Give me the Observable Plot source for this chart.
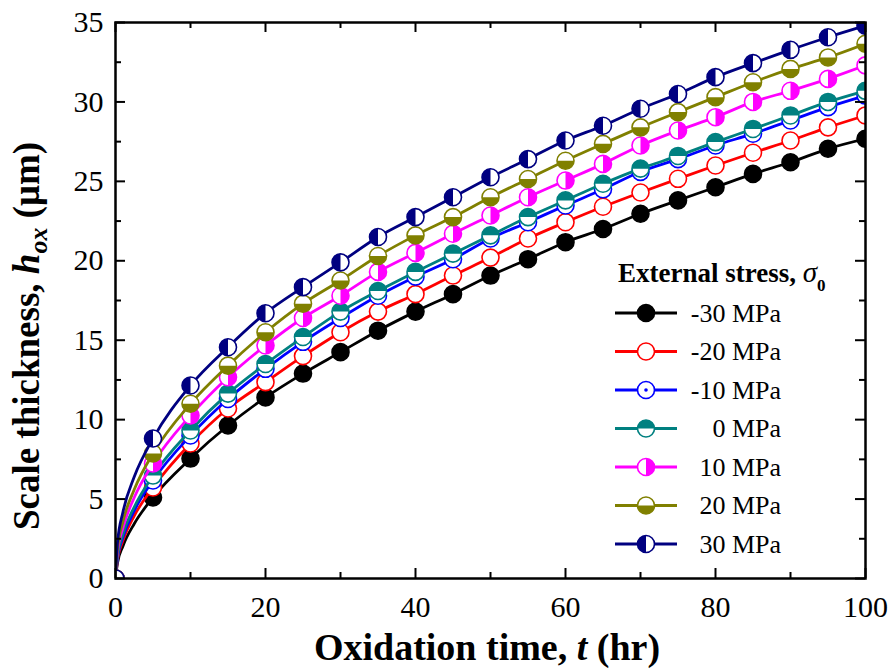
<!DOCTYPE html>
<html><head><meta charset="utf-8">
<script src="https://cdn.jsdelivr.net/npm/d3@7"></script>
<script src="https://cdn.jsdelivr.net/npm/@observablehq/plot@0.6"></script>
<style>
body{margin:0;background:#fff}
#chart{width:893px;height:671px}
svg, svg text{font-family:"Liberation Serif","Times New Roman",serif !important}
</style>
</head><body><div id="chart"></div>
<script>
// ---- data ----
const times = [0, 5, 10, 15, 20, 25, 30, 35, 40, 45, 50, 55, 60, 65, 70, 75, 80, 85, 90, 95, 100];
const earlyTimes = [0.25, 1, 2.5]; // extra line-only points near the origin
const stressLabels = ["-30 MPa", "-20 MPa", "-10 MPa", "0 MPa", "10 MPa", "20 MPa", "30 MPa"];
const colors = ["#000000", "#ff0000", "#0000ff", "#008080", "#ff00ff", "#808000", "#000080"];

const hM30 = [0, 5.1, 7.55, 9.63, 11.4, 12.9, 14.25, 15.6, 16.8, 17.9, 19.07, 20.1, 21.17, 22.0, 22.96, 23.8, 24.63, 25.47, 26.2, 27.05, 27.68];
const hM20 = [0, 5.73, 8.5, 10.7, 12.36, 14.0, 15.5, 16.8, 17.9, 19.07, 20.2, 21.4, 22.43, 23.4, 24.3, 25.16, 26.0, 26.8, 27.57, 28.4, 29.15];
const hM10 = [0, 6.17, 9.0, 11.3, 13.2, 14.9, 16.4, 17.8, 19.0, 20.1, 21.4, 22.43, 23.48, 24.5, 25.6, 26.4, 27.26, 28.0, 28.83, 29.67, 30.4];
const hP0  = [0, 6.48, 9.32, 11.64, 13.5, 15.2, 16.8, 18.1, 19.3, 20.45, 21.6, 22.75, 23.8, 24.85, 25.8, 26.6, 27.47, 28.3, 29.15, 30.0, 30.7];
const hP10 = [0, 7.24, 10.26, 12.67, 14.67, 16.4, 17.8, 19.3, 20.5, 21.7, 22.85, 24.0, 25.05, 26.1, 27.26, 28.2, 29.04, 30.0, 30.7, 31.45, 32.3];
const hP20 = [0, 7.87, 11.0, 13.4, 15.5, 17.3, 18.76, 20.3, 21.6, 22.75, 24.0, 25.15, 26.3, 27.36, 28.4, 29.36, 30.3, 31.24, 32.08, 32.8, 33.66];
const hP30 = [0, 8.81, 12.15, 14.56, 16.7, 18.34, 19.9, 21.5, 22.75, 24.0, 25.26, 26.4, 27.57, 28.5, 29.57, 30.5, 31.56, 32.44, 33.28, 34.07, 34.8];

const earlyM30 = [0.94, 2.05, 3.45];
const earlyM20 = [1.1, 2.4, 3.95];
const earlyM10 = [1.2, 2.6, 4.27];
const earlyP0  = [1.3, 2.8, 4.5];
const earlyP10 = [1.6, 3.2, 5.1];
const earlyP20 = [1.8, 3.6, 5.6];
const earlyP30 = [2.2, 4.2, 6.4];

const xMajor = [0, 20, 40, 60, 80, 100];
const xMinor = [10, 30, 50, 70, 90];
const yMajor = [0, 5, 10, 15, 20, 25, 30, 35];
const yMinor = [2.5, 7.5, 12.5, 17.5, 22.5, 27.5, 32.5];

// ---- build tables ----
const seriesVals = [hM30, hM20, hM10, hP0, hP10, hP20, hP30];
const seriesEarly = [earlyM30, earlyM20, earlyM10, earlyP0, earlyP10, earlyP20, earlyP30];
const markerRows = seriesVals.map((vals, k) => times.map((t, j) => ({t, h: vals[j], k})));
const lineRows = seriesVals.map((vals, k) => {
  const rows = times.map((t, j) => ({t, h: vals[j]}));
  earlyTimes.forEach((t, j) => rows.push({t, h: seriesEarly[k][j]}));
  return rows.sort((a, b) => a.t - b.t);
});

// half-disc symbols
const half = (a0) => ({draw(ctx, size) {
  const r = Math.sqrt(size / Math.PI);
  ctx.moveTo(r * Math.cos(a0), r * Math.sin(a0));
  ctx.arc(0, 0, r, a0, a0 + Math.PI);
  ctx.closePath();
}});
const halfSym = [null, null, null, half(Math.PI), half(-Math.PI / 2), half(0), half(Math.PI / 2)];

const W = 893, H = 671, ML = 115, MR = 28, MT = 22, MB = 93;
const PW = W - ML - MR, PH = H - MT - MB;
const R = 8.5;

const marks = [];
seriesVals.forEach((_, k) => {
  marks.push(Plot.line(lineRows[k], {x: "t", y: "h", stroke: colors[k], strokeWidth: 2.8, curve: "monotone-x", clip: true}));
  marks.push(Plot.dot(markerRows[k], {x: "t", y: "h", r: R, fill: k === 0 ? colors[k] : "white", stroke: colors[k], strokeWidth: 1.6, clip: true}));
  if (halfSym[k]) marks.push(Plot.dot(markerRows[k], {x: "t", y: "h", r: R, symbol: halfSym[k], fill: colors[k], clip: true}));
  if (k === 2) marks.push(Plot.dot(markerRows[k], {x: "t", y: "h", r: 1.8, fill: colors[k], clip: true}));
});

const chart = Plot.plot({
  width: W, height: H,
  marginLeft: ML, marginRight: MR, marginTop: MT, marginBottom: MB,
  style: {fontFamily: "'Liberation Serif', serif", background: "white", color: "black"},
  x: {domain: [0, 100]},
  y: {domain: [0, 35]},
  marks: [
    ...marks,
    Plot.tickX(xMajor, {x: d => d, insetTop: PH - 10, stroke: "black", strokeWidth: 2}),
    Plot.tickX(xMinor, {x: d => d, insetTop: PH - 6, stroke: "black", strokeWidth: 2}),
    Plot.tickX(xMajor, {x: d => d, insetBottom: PH - 10, stroke: "black", strokeWidth: 2}),
    Plot.tickX(xMinor, {x: d => d, insetBottom: PH - 6, stroke: "black", strokeWidth: 2}),
    Plot.tickY(yMajor, {y: d => d, insetRight: PW - 10, stroke: "black", strokeWidth: 2}),
    Plot.tickY(yMinor, {y: d => d, insetRight: PW - 6, stroke: "black", strokeWidth: 2}),
    Plot.tickY(yMajor, {y: d => d, insetLeft: PW - 10, stroke: "black", strokeWidth: 2}),
    Plot.tickY(yMinor, {y: d => d, insetLeft: PW - 6, stroke: "black", strokeWidth: 2}),
    Plot.frame({stroke: "black", strokeWidth: 2.5}),
    Plot.axisX(xMajor, {tickSize: 0, tickPadding: 17, fontSize: 30, label: null}),
    Plot.axisY(yMajor, {tickSize: 0, tickPadding: 12, fontSize: 30, label: null})
  ]
});
document.getElementById("chart").appendChild(chart);

const svg = d3.select(chart);
// x axis title
const xt = svg.append("text").attr("x", 487).attr("y", 660).attr("text-anchor", "middle")
  .attr("font-size", 38).attr("font-weight", "bold").attr("fill", "black");
xt.append("tspan").text("Oxidation time, ");
xt.append("tspan").attr("font-style", "italic").text("t");
xt.append("tspan").text(" (hr)");
// y axis title
const yt = svg.append("text").attr("transform", "translate(39,336) rotate(-90)").attr("text-anchor", "middle")
  .attr("font-size", 37).attr("font-weight", "bold").attr("fill", "black");
yt.append("tspan").text("Scale thickness, ");
yt.append("tspan").attr("font-style", "italic").text("h");
yt.append("tspan").attr("font-style", "italic").attr("font-size", 26).attr("dy", 8).text("ox");
yt.append("tspan").attr("dy", -8).text(" (\u03bcm)");

// legend
const lg = svg.append("g");
const lt = lg.append("text").attr("x", 618).attr("y", 282).attr("text-anchor", "start")
  .attr("font-size", 27).attr("font-weight", "bold").attr("fill", "black");
lt.append("tspan").text("External stress, ");
lt.append("tspan").attr("font-style", "italic").attr("font-weight", "normal").attr("font-size", 29).text("\u03c3");
lt.append("tspan").attr("font-size", 17).attr("dy", 9).text("0");
const rowY = [313, 351.5, 390, 428.5, 467, 505.5, 544];
stressLabels.forEach((lab, k) => {
  const y = rowY[k];
  lg.append("line").attr("x1", 615).attr("x2", 677).attr("y1", y).attr("y2", y)
    .attr("stroke", colors[k]).attr("stroke-width", 2.8);
  lg.append("circle").attr("cx", 646).attr("cy", y).attr("r", R)
    .attr("fill", k === 0 ? colors[k] : "white").attr("stroke", colors[k]).attr("stroke-width", 1.6);
  if (halfSym[k]) lg.append("path").attr("transform", `translate(646,${y})`)
    .attr("d", d3.symbol(halfSym[k], R * R * Math.PI)()).attr("fill", colors[k]);
  if (k === 2) lg.append("circle").attr("cx", 646).attr("cy", y).attr("r", 1.8).attr("fill", colors[k]);
  lg.append("text").attr("x", 781).attr("y", y).attr("dy", "0.33em").attr("text-anchor", "end")
    .attr("font-size", 26).attr("fill", "black").text(lab);
});
</script>
</body></html>
